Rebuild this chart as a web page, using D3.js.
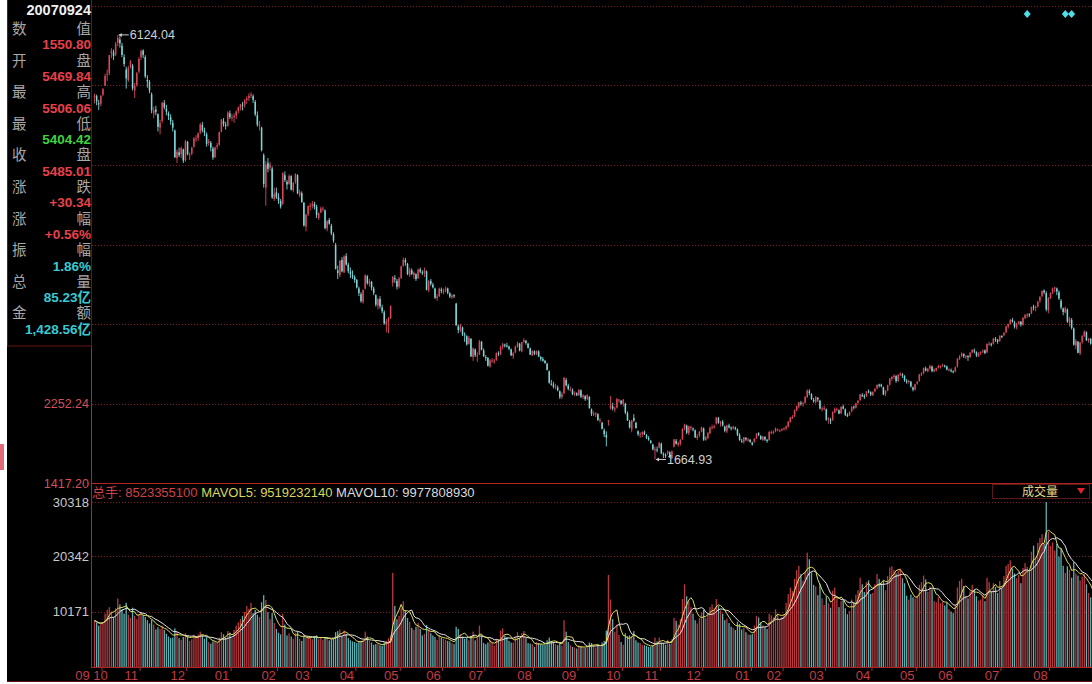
<!DOCTYPE html>
<html><head><meta charset="utf-8">
<script src="https://cdn.jsdelivr.net/npm/d3@7/dist/d3.min.js"></script>
<style>
html,body{margin:0;padding:0;background:#fff;}
svg{display:block;}
</style></head><body>
<svg id="c" width="1092" height="684"></svg>
<script>
// ---------------- DATA ----------------
const monthLabels = ['09','10','11','12','01','02','03','04','05','06','07','08','09','10','11','12','01','02','03','04','05','06','07','08'];
const monthStarts = [0,5,23,45,66,88,104,125,146,166,186,209,230,251,269,289,312,327,347,369,390,408,430,453];

const opens = [
5470,5480,5405,5400,5497,
5590,5705,5725,5930,5940,5920,6040,6075,6010,5890,5760,5650,5790,5800,5540,5600,5740,5890,
5960,5890,5650,5630,5500,5300,5340,5290,5150,5220,5410,5350,5300,5260,5200,5120,4830,4890,4870,4920,4810,5000,
4860,4880,4950,5030,5040,5100,5180,5120,5080,4990,4990,4930,4840,4950,4970,5110,5220,5180,5170,5300,5260,
5265,5275,5325,5360,5390,5390,5440,5460,5490,5480,5420,5280,5170,5150,4860,4520,4780,4730,4720,4400,4470,4420,
4380,4350,4650,4580,4560,4640,4490,4580,4650,4440,4460,4360,4110,4240,4320,4330,
4350,4320,4200,4260,4290,4280,4090,4180,4120,4030,3920,3650,3600,3760,3630,3800,3710,3640,3600,3580,3550,
3460,3400,3320,3460,3590,3510,3530,3460,3390,3280,3350,3260,3210,3080,3110,3150,3520,3570,3540,3480,3570,
3700,3760,3720,3600,3650,3600,3610,3570,3660,3630,3620,3640,3440,3540,3500,3460,3360,3380,3450,3430,
3440,3460,3410,3370,3390,3300,3060,3020,3050,2980,2960,2880,2930,2740,2820,2750,2770,2900,2810,2740,
2730,2640,2700,2700,2710,2780,2770,2850,2870,2860,2850,2820,2750,2790,2850,2880,2800,2900,2910,2880,2830,2760,2800,
2770,2800,2740,2720,2700,2670,2590,2460,2450,2430,2420,2380,2320,2360,2500,2440,2400,2390,2350,2360,2340,
2390,2320,2330,2300,2320,2190,2140,2140,2140,2070,2050,1970,1920,2070,2200,2220,2190,2210,2290,2280,2250,
2250,2150,2060,1980,2100,2050,1960,1930,1930,1950,1920,1890,1860,1820,1760,1770,1790,1830,
1720,1710,1730,1740,1680,1800,1860,1820,1830,1880,1990,2020,1940,2000,1990,1970,1890,1920,1960,1990,
1870,1890,1940,2000,2000,2040,2100,2040,2060,2010,1960,2020,2000,1990,2000,1980,1920,1860,1850,1890,1870,1870,1840,
1850,1890,1940,1910,1870,1900,1870,1870,1950,1950,1960,1980,1970,1970,1980,
1990,2010,2060,2100,2120,2180,2220,2260,2250,2260,2320,2380,2350,2290,2270,2310,2280,2190,2200,2190,
2080,2080,2080,2160,2190,2180,2150,2220,2190,2130,2130,2170,2220,2210,2260,2290,2340,2330,2330,2380,2370,2340,
2380,2410,2450,2450,2420,2350,2390,2450,2510,2530,2540,2490,2560,2560,2540,2490,2480,2480,2420,2400,2460,
2490,2560,2570,2620,2590,2620,2640,2590,2600,2630,2640,2650,2650,2640,2610,2600,2590,2590,
2640,2720,2750,2770,2740,2750,2740,2790,2810,2790,2750,2790,2800,2810,2790,2880,2880,2880,2930,2920,2910,2960,
2970,3000,3060,3090,3130,3100,3050,3090,3110,3080,3150,3180,3190,3200,3270,3260,3270,3330,3380,3440,3410,3230,3360,
3420,3470,3460,3420,3330,3250,3210,3240,3100,3130,3040,2860,2900,2780,2900,2960,3000,2910,2930,2870,2850
];
const highs = [
5506.06,5497,5442,5490,5566,
5715,5760,5913,5985,5970,6052,6124.04,6110,6040,5920,5790,5800,5860,5820,5620,5735,5890,5970,
5972,5910,5700,5650,5520,5370,5380,5300,5230,5420,5440,5390,5320,5290,5230,5130,4920,4940,4950,4930,5020,5010,
4890,4950,5050,5070,5100,5200,5210,5150,5100,5030,5010,4950,4950,4990,5110,5240,5250,5210,5320,5330,5290,
5300,5330,5370,5400,5420,5450,5480,5510,5522,5500,5440,5320,5220,5160,4880,4800,4830,4790,4740,4520,4520,4460,
4400,4680,4690,4600,4660,4650,4580,4670,4660,4500,4480,4370,4240,4330,4360,4380,
4370,4340,4260,4320,4320,4290,4180,4200,4140,4050,3940,3700,3760,3790,3810,3830,3730,3680,3650,3600,3560,
3480,3420,3450,3610,3600,3560,3540,3480,3400,3360,3380,3290,3230,3140,3160,3280,3590,3600,3560,3580,3700,
3786,3780,3730,3680,3670,3640,3620,3670,3680,3650,3680,3650,3550,3560,3520,3470,3400,3470,3470,3460,
3480,3470,3420,3400,3400,3310,3080,3090,3060,3000,2970,2960,2940,2840,2830,2790,2920,2910,2830,2760,
2740,2720,2730,2720,2790,2800,2860,2890,2880,2890,2860,2830,2790,2860,2900,2890,2900,2940,2920,2890,2840,2810,2810,
2810,2810,2750,2740,2710,2680,2600,2500,2480,2460,2440,2390,2370,2530,2520,2460,2430,2410,2380,2370,2400,
2400,2350,2340,2350,2330,2200,2170,2160,2150,2100,2060,1990,1960,2080,2330,2260,2220,2310,2300,2290,2300,
2260,2170,2080,2080,2140,2060,1970,1950,1960,1970,1930,1910,1870,1830,1800,1800,1850,1840,
1740,1730,1760,1750,1760,1880,1880,1850,1880,1990,2040,2030,2020,2020,2000,1980,1930,1960,2010,2000,
1910,1950,2010,2030,2030,2110,2110,2070,2080,2020,2030,2040,2010,2020,2010,1990,1940,1880,1900,1900,1890,1880,1850,
1890,1940,1950,1920,1910,1910,1880,1960,1970,1970,2000,1990,1980,1990,2000,
2020,2070,2110,2130,2190,2230,2270,2280,2270,2330,2400,2402,2360,2310,2330,2320,2290,2220,2230,2200,
2110,2100,2170,2210,2210,2190,2220,2240,2200,2150,2170,2220,2230,2260,2290,2350,2360,2350,2380,2400,2380,2380,
2410,2450,2460,2460,2430,2390,2450,2520,2540,2560,2550,2560,2580,2570,2550,2510,2500,2490,2430,2460,2490,
2560,2580,2630,2640,2620,2660,2650,2620,2630,2660,2650,2670,2660,2650,2620,2620,2600,2640,
2730,2760,2790,2780,2760,2760,2790,2820,2830,2800,2790,2800,2820,2820,2880,2900,2890,2940,2950,2930,2970,2970,
3000,3070,3090,3140,3150,3120,3100,3120,3120,3160,3190,3200,3200,3270,3290,3280,3330,3380,3440,3450,3430,3370,3420,
3470,3478,3470,3440,3350,3260,3270,3250,3160,3150,3050,2930,2910,2900,2970,3020,3010,2940,2940,2880,2860
];
const lows = [
5404.42,5385,5335,5372,5480,
5590,5640,5700,5880,5860,5900,6005,5990,5890,5790,5560,5630,5770,5540,5460,5580,5720,5860,
5880,5670,5570,5510,5300,5250,5280,5110,5080,5200,5340,5280,5230,5180,5110,4830,4780,4840,4830,4778,4790,4860,
4810,4860,4940,5000,5010,5080,5100,5060,4950,4960,4900,4812,4830,4920,4960,5100,5160,5130,5160,5240,5220,
5200,5240,5300,5330,5330,5360,5400,5430,5460,5410,5270,5160,5120,4900,4520,4330,4680,4700,4400,4380,4400,4350,
4300,4340,4580,4500,4550,4490,4470,4560,4450,4420,4360,4110,4060,4220,4280,4300,
4290,4200,4180,4250,4270,4080,4060,4130,4020,3940,3660,3560,3580,3630,3620,3700,3620,3570,3560,3520,3460,
3380,3310,3300,3450,3500,3480,3440,3390,3270,3240,3250,3200,3080,3000,2990,3140,3480,3520,3450,3460,3560,
3690,3700,3600,3580,3600,3560,3540,3560,3620,3600,3580,3440,3420,3490,3460,3350,3330,3370,3410,3400,
3420,3400,3360,3350,3360,3070,2990,3000,2960,2900,2860,2870,2740,2700,2740,2690,2760,2810,2740,2700,
2640,2630,2680,2670,2700,2750,2760,2820,2840,2840,2810,2750,2720,2780,2840,2800,2790,2890,2870,2830,2760,2750,2760,
2760,2740,2700,2690,2670,2600,2460,2440,2410,2400,2380,2300,2300,2350,2430,2390,2380,2340,2330,2330,2330,
2310,2300,2280,2290,2200,2120,2120,2110,2070,2050,1980,1900,1802,2020,2190,2180,2160,2200,2260,2240,2220,
2140,2070,1990,1950,2060,1990,1910,1890,1900,1920,1880,1860,1830,1760,1664.93,1740,1780,1720,
1680,1680,1710,1680,1670,1790,1820,1800,1810,1870,1970,1930,1920,1970,1960,1890,1870,1900,1950,1860,
1860,1880,1930,1980,1990,2030,2040,2010,2010,1950,1940,1990,1970,1980,1970,1910,1860,1840,1830,1860,1850,1840,1810,
1840,1880,1910,1870,1860,1860,1840,1860,1930,1930,1950,1960,1950,1960,1970,
1970,2000,2050,2090,2110,2170,2200,2230,2220,2250,2310,2340,2290,2260,2250,2270,2190,2170,2180,2070,
2040,2037,2070,2150,2170,2140,2140,2190,2120,2110,2120,2160,2190,2200,2240,2280,2320,2300,2320,2360,2330,2330,
2370,2400,2420,2420,2340,2330,2380,2440,2490,2510,2470,2480,2540,2520,2480,2460,2460,2420,2380,2390,2450,
2480,2540,2560,2590,2580,2610,2580,2580,2590,2620,2620,2640,2630,2600,2590,2580,2570,2580,
2630,2710,2740,2730,2720,2700,2730,2780,2780,2740,2740,2760,2780,2770,2780,2860,2850,2870,2900,2880,2900,2940,
2960,2990,3040,3080,3100,3040,3030,3080,3060,3070,3140,3150,3160,3190,3230,3220,3260,3310,3370,3400,3220,3200,3350,
3400,3420,3390,3340,3240,3180,3200,3100,3060,3030,2860,2820,2780,2760,2880,2950,2910,2890,2870,2830,2650
];
const closes = [
5485.01,5425,5395,5485,5553,
5693,5715,5913,5958,5903,6030,6092,6036,5914,5818,5667,5775,5843,5562,5589,5721,5872,5954,
5914,5688,5634,5539,5330,5331,5316,5158,5200,5412,5362,5317,5270,5214,5150,4840,4897,4861,4935,4803,5004,4871,
4868,4938,5036,5035,5091,5183,5120,5097,4978,5008,4941,4836,4941,4965,5101,5235,5186,5167,5308,5261,5262,
5272,5320,5362,5394,5386,5435,5456,5484,5497,5443,5290,5180,5180,4914,4559,4761,4717,4762,4419,4456,4418,4383,
4320,4672,4599,4552,4642,4497,4571,4660,4461,4471,4370,4123,4238,4329,4330,4348,
4320,4230,4251,4300,4300,4096,4165,4141,4040,3962,3668,3623,3749,3641,3796,3712,3643,3609,3582,3550,3472,
3412,3329,3444,3599,3517,3535,3470,3413,3291,3348,3273,3222,3094,3116,3147,3278,3583,3557,3478,3566,3693,
3761,3734,3613,3657,3614,3626,3560,3657,3637,3624,3651,3447,3536,3510,3473,3364,3375,3458,3433,3433,
3459,3415,3376,3385,3379,3072,3024,3074,2979,2969,2874,2942,2748,2831,2760,2761,2905,2818,2748,2736,
2651,2705,2704,2703,2780,2770,2846,2874,2860,2857,2826,2759,2784,2851,2884,2810,2898,2917,2889,2837,2766,2805,2775,
2803,2745,2720,2702,2677,2605,2470,2457,2430,2431,2392,2319,2350,2523,2444,2405,2400,2350,2365,2342,2397,
2325,2336,2297,2340,2202,2143,2145,2150,2078,2079,1986,1929,1895,2075,2236,2201,2202,2298,2293,2251,2293,
2157,2074,2000,2073,2072,1994,1931,1930,1951,1930,1895,1873,1839,1771,1772,1763,1839,1728,
1719,1706,1747,1694,1748,1874,1830,1838,1870,1986,2030,1946,2010,2005,1986,1898,1908,1957,2001,1871,
1897,1945,1997,2003,2012,2105,2049,2060,2025,1967,2022,2002,1995,2003,1987,1924,1869,1855,1897,1876,1874,1850,1821,
1882,1937,1924,1878,1904,1875,1864,1955,1951,1954,1990,1982,1971,1982,1990,
2012,2061,2107,2111,2181,2226,2265,2254,2255,2320,2389,2362,2300,2275,2319,2296,2200,2201,2202,2082,
2093,2071,2163,2193,2192,2146,2219,2198,2133,2128,2162,2218,2216,2252,2281,2347,2330,2324,2378,2374,2346,2373,
2408,2449,2444,2435,2347,2389,2444,2513,2530,2543,2489,2554,2565,2546,2496,2485,2488,2432,2398,2454,2477,
2559,2567,2625,2598,2620,2647,2592,2609,2625,2646,2645,2652,2645,2610,2611,2599,2581,2632,
2721,2746,2777,2749,2750,2741,2787,2817,2798,2757,2785,2794,2810,2782,2880,2881,2876,2934,2920,2902,2960,2959,
2995,3060,3088,3130,3113,3059,3091,3114,3080,3150,3183,3188,3189,3266,3266,3266,3321,3372,3435,3420,3241,3360,3412,
3463,3471,3428,3356,3261,3214,3254,3112,3145,3046,2870,2910,2785,2894,2959,3008,2916,2928,2880,2860,2667
];
const volumes = [
8523,8200,7600,7900,8300,
9800,10500,11000,10200,9200,10800,12600,11500,10600,9800,11800,9600,9000,10900,9400,8800,9700,10100,
9500,9200,8600,8000,8700,7800,6900,7300,7000,7600,6800,6100,5600,5300,5400,7100,6500,5300,5000,5500,6200,5700,
4800,5100,5900,5600,6000,6500,5800,5200,5500,4600,4300,4700,4600,4400,5400,6400,6000,5400,6600,6300,5300,
6800,7600,8200,8800,9400,10100,11200,10700,11800,9900,10500,9600,9200,11900,13200,12300,10100,8800,9900,8100,7000,6300,
6000,9800,7800,5800,6200,5600,5200,6300,6500,5200,4800,5700,5400,5600,5500,5100,
5600,5800,5100,5500,5000,5500,5200,4900,5100,5300,6400,6600,6900,5700,6700,6100,5300,4900,4700,4600,4400,
4700,4800,5000,6500,5600,4800,4500,4100,4200,4300,4000,3900,4500,4800,5300,5800,17300,11200,8800,9400,10800,
12100,10400,9000,8300,7200,6800,7400,8100,7000,5800,6100,7700,6900,6200,5800,5500,5000,5900,5400,5200,
5000,4800,4700,4400,4200,7400,7000,6000,5600,5200,5300,4900,5700,6500,4900,5400,7600,5800,4400,4200,
4500,4900,4400,3900,5200,5000,6700,7100,5800,5500,4800,4500,4500,5600,6400,5400,6200,6600,5300,4400,4300,4200,3700,
4600,4400,4200,4100,4200,4900,5400,4800,4600,4200,4000,4400,3900,8600,6500,4600,4000,3700,3600,3400,4000,
3800,3600,3500,3900,4500,4400,3900,3600,4100,3700,4500,4800,6700,16900,12400,8800,6500,7800,5900,4600,4100,
6200,5700,5800,5600,6600,4900,4500,4400,4100,4000,3900,3700,3700,4000,5400,4700,5400,4500,
4400,4100,5000,4300,5100,9000,8500,7800,8800,12500,15200,13000,12000,11000,9800,8600,8000,9000,10000,10500,
9000,9600,11000,11500,10800,12500,11200,10400,9800,8600,8900,8100,7400,7200,6800,8300,7900,6900,7200,6400,6000,5900,6100,
7600,9400,9100,8200,7600,7300,7000,9800,9500,9100,10600,9700,8800,9200,9600,
11800,13400,14600,14000,16200,17800,18600,17100,15900,17500,21000,19800,17400,15100,14800,13200,15300,12600,11400,13000,
11700,10900,14000,14600,12600,11000,12100,12200,10800,9700,10300,12400,11900,13300,14100,16400,15200,13800,15600,15900,13400,13600,
15200,17100,16200,15400,15800,14100,16700,18300,18500,17800,17200,17700,18100,16300,15400,13100,12400,13300,12800,12600,13100,
15100,15600,16800,16100,13800,14800,14300,12100,11900,12800,11700,12000,11300,11800,10600,10200,9900,11400,
14600,15800,16200,14900,13100,12600,13900,15100,14200,13000,12200,12400,13300,12100,16400,15600,13900,15400,14700,13600,15800,14500,
16700,18600,18900,19600,18100,17200,16300,16900,15400,18200,19100,18400,17600,21200,22300,20100,22800,23700,24400,22600,30318,24800,22200,
22900,21400,22600,20300,21800,18600,17300,18500,17900,16400,19300,17200,16800,15900,16600,17100,15200,13600,12800,12100,14300
];

const priceGrid = [2252.24, 3087.28, 3922.32, 4757.36, 5592.40, 6427.44];
const priceLabels = [1417.20, 2252.24];
const volTicks = [10171, 20342, 30318];
const infoDate = '20070924';
const infoLabels = [['数','值'],['开','盘'],['最','高'],['最','低'],['收','盘'],['涨','跌'],['涨','幅'],['振','幅'],['总','量'],['金','额']];
const infoValues = ['1550.80','5469.84','5506.06','5404.42','5485.01','+30.34','+0.56%','1.86%','85.23亿','1,428.56亿'];
const infoKinds = ['up','up','up','down','up','up','up','info','info','info'];
const volHeader = [['总手: ', '8523355100'], ['MAVOL5: ', '9519232140'], ['MAVOL10: ', '9977808930']];
const markerIdx = [441, 459, 462];

// ---------------- DRAW ----------------
const svg = d3.select('#c');
const W = 1092;
const x = d3.scaleLinear().domain([0, 473]).range([94.5, 94.5 + 473 * 2.115]);
const yP = d3.scaleLinear().domain([1417.2, 6427.44]).range([483, 6]);
const yV = d3.scaleLinear().domain([0, 30318]).range([667, 502]);
const idx = d3.range(closes.length);
const isUp = i => closes[i] >= opens[i];
const UP = '#d8485a', DN = '#7ad8da';
const VUP = '#b83a40', VDN = '#5fb0b2';
const GRID = '#8a1a1a', AX = '#b02424';
const LAT = 'Liberation Sans, Arial, sans-serif';
// Latin primary font keeps the line box compact; CJK glyphs fall back to Noto Sans CJK SC
const MIX = 'Liberation Sans, Noto Sans CJK SC, sans-serif';

svg.append('rect').attr('x', 7).attr('y', 0).attr('width', W - 7).attr('height', 682).attr('fill', '#000');
svg.append('rect').attr('x', 0).attr('y', 444).attr('width', 4).attr('height', 26).attr('fill', '#e06a78');

const defs = svg.append('defs');
defs.append('clipPath').attr('id', 'cp').append('rect').attr('x', 92).attr('y', 0).attr('width', W - 92).attr('height', 483);
defs.append('clipPath').attr('id', 'cv').append('rect').attr('x', 92).attr('y', 500).attr('width', W - 92).attr('height', 167);

// grid
svg.append('g').selectAll('line').data(priceGrid).join('line')
  .attr('x1', 92).attr('x2', W).attr('y1', d => Math.round(yP(d)) + 0.5).attr('y2', d => Math.round(yP(d)) + 0.5)
  .attr('stroke', GRID).attr('stroke-dasharray', '1,2');
svg.append('g').selectAll('line').data(volTicks).join('line')
  .attr('x1', 92).attr('x2', W).attr('y1', d => Math.round(yV(d)) + 0.5).attr('y2', d => Math.round(yV(d)) + 0.5)
  .attr('stroke', GRID).attr('stroke-dasharray', '1,2');

// candles
const gp = svg.append('g').attr('clip-path', 'url(#cp)');
gp.selectAll('line').data(idx).join('line')
  .attr('x1', i => x(i)).attr('x2', i => x(i))
  .attr('y1', i => yP(Math.max(highs[i], opens[i], closes[i])))
  .attr('y2', i => yP(Math.min(lows[i], opens[i], closes[i])))
  .attr('stroke', i => isUp(i) ? UP : DN).attr('stroke-width', 0.9);
gp.selectAll('rect').data(idx).join('rect')
  .attr('x', i => x(i) - 0.75).attr('width', 1.5)
  .attr('y', i => yP(Math.max(opens[i], closes[i])))
  .attr('height', i => Math.max(1, Math.abs(yP(opens[i]) - yP(closes[i]))))
  .attr('fill', i => isUp(i) ? UP : DN);

// peak / trough annotations
const iHi = d3.maxIndex(highs), iLo = d3.minIndex(lows);
[[iHi, highs[iHi]], [iLo, lows[iLo]]].forEach(([i, v]) => {
  const px = x(i), py = yP(v);
  const g = svg.append('g');
  g.append('line').attr('x1', px + 1).attr('x2', px + 11).attr('y1', py).attr('y2', py).attr('stroke', '#cfcfcf');
  g.append('path').attr('d', `M${px + 1},${py} l3,-2 v4 z`).attr('fill', '#cfcfcf');
  g.append('text').attr('x', px + 12).attr('y', py + 4.5).text(d3.format('.2f')(v))
    .attr('fill', '#cfcfcf').attr('font-family', LAT).attr('font-size', 12.5);
});

// volume bars
const gv = svg.append('g').attr('clip-path', 'url(#cv)');
gv.selectAll('rect').data(idx).join('rect')
  .attr('x', i => x(i) - 0.65).attr('width', 1.3)
  .attr('y', i => yV(volumes[i])).attr('height', i => 667 - yV(volumes[i]))
  .attr('fill', i => isUp(i) ? VUP : VDN);
const movAvg = n => volumes.map((v, i) => d3.mean(volumes.slice(Math.max(0, i - n + 1), i + 1)));
const vline = d3.line().x((d, i) => x(i)).y(d => yV(d));
gv.append('path').attr('d', vline(movAvg(10))).attr('fill', 'none').attr('stroke', '#e8e8e8').attr('stroke-width', 1);
gv.append('path').attr('d', vline(movAvg(5))).attr('fill', 'none').attr('stroke', '#dede5a').attr('stroke-width', 1);

// axes lines
svg.append('line').attr('x1', 91.5).attr('x2', 91.5).attr('y1', 0).attr('y2', 667).attr('stroke', AX);
svg.append('line').attr('x1', 91).attr('x2', W).attr('y1', 483.5).attr('y2', 483.5).attr('stroke', AX);
svg.append('line').attr('x1', 91).attr('x2', W).attr('y1', 667.5).attr('y2', 667.5).attr('stroke', AX);
svg.append('line').attr('x1', 7).attr('x2', W).attr('y1', 681.5).attr('y2', 681.5).attr('stroke', '#6a1010');

// price labels
svg.append('g').selectAll('text').data(priceLabels).join('text')
  .attr('x', 89).attr('y', d => yP(d) + 4.5).attr('text-anchor', 'end')
  .attr('fill', '#d45058').attr('font-family', LAT).attr('font-size', 12.5)
  .text(d => d3.format('.2f')(d));
// volume labels
svg.append('g').selectAll('text').data(volTicks).join('text')
  .attr('x', 89).attr('y', d => yV(d) + 4.5).attr('text-anchor', 'end')
  .attr('fill', '#c8c8c8').attr('font-family', LAT).attr('font-size', 13)
  .text(d => d);

// month labels (label sits just left of the month's first bar; keep neighbours apart)
const labelX = [];
monthStarts.forEach((d, k) => {
  let cx = x(d) - 12;
  if (k > 0 && cx < labelX[k - 1] + 18) cx = labelX[k - 1] + 18;
  labelX.push(cx);
});
const gm = svg.append('g');
gm.selectAll('text').data(monthStarts).join('text')
  .attr('x', (d, k) => labelX[k]).attr('y', 680).attr('text-anchor', 'middle')
  .attr('fill', '#c43c44').attr('font-family', LAT).attr('font-size', 13)
  .text((d, k) => monthLabels[k]);
gm.selectAll('line').data(monthStarts.slice(1)).join('line')
  .attr('x1', d => x(d) - 3).attr('x2', d => x(d) - 3).attr('y1', 668).attr('y2', 671)
  .attr('stroke', '#a03030');

// volume header
const hdr = svg.append('text').attr('x', 92).attr('y', 497)
  .attr('font-family', MIX).attr('font-size', 13);
const hdrCols = ['#d04048', '#d8d85a', '#dcdcdc'];
volHeader.forEach((h, k) => {
  hdr.append('tspan').attr('fill', hdrCols[k]).text(h[0] + h[1] + (k < 2 ? ' ' : ''));
});
svg.append('rect').attr('x', 992.5).attr('y', 484.5).attr('width', 97).attr('height', 14)
  .attr('fill', '#000').attr('stroke', '#5a1818');
svg.append('text').attr('x', 1040).attr('y', 496).attr('text-anchor', 'middle').text('成交量')
  .attr('fill', '#e6d88a').attr('font-family', MIX).attr('font-size', 12);
svg.append('path').attr('d', 'M1077,488 h8 l-4,6 z').attr('fill', '#e02030');

// markers top right
svg.append('g').selectAll('path').data(markerIdx).join('path')
  .attr('d', d => `M${x(d)},10 l3.5,4 l-3.5,4 l-3.5,-4 z`).attr('fill', '#4ee0e6');

// info panel
const ip = svg.append('g');
ip.append('rect').attr('x', 7.5).attr('y', -1).attr('width', 84).attr('height', 347)
  .attr('fill', '#000').attr('stroke', '#6a1414');
ip.append('text').attr('x', 91).attr('y', 15).attr('text-anchor', 'end').text(infoDate)
  .attr('fill', '#f0f0f0').attr('font-weight', 'bold').attr('font-size', 14.5)
  .attr('font-family', LAT);
const valCol = { up: '#e8404a', down: '#3ed23e', info: '#3cc8d2' };
infoLabels.forEach((lab, k) => {
  const y0 = 34 + k * 31.6;
  ip.append('text').attr('x', 12).attr('y', y0).text(lab[0])
    .attr('fill', '#a8a8a8').attr('font-size', 14.5).attr('font-family', MIX);
  ip.append('text').attr('x', 91).attr('y', y0).attr('text-anchor', 'end').text(lab[1])
    .attr('fill', '#a8a8a8').attr('font-size', 14.5).attr('font-family', MIX);
  ip.append('text').attr('x', 91).attr('y', y0 + 15.45).attr('text-anchor', 'end').text(infoValues[k])
    .attr('fill', valCol[infoKinds[k]]).attr('font-weight', 'bold').attr('font-size', 13.5)
    .attr('font-family', MIX);
});
</script>
</body></html>
